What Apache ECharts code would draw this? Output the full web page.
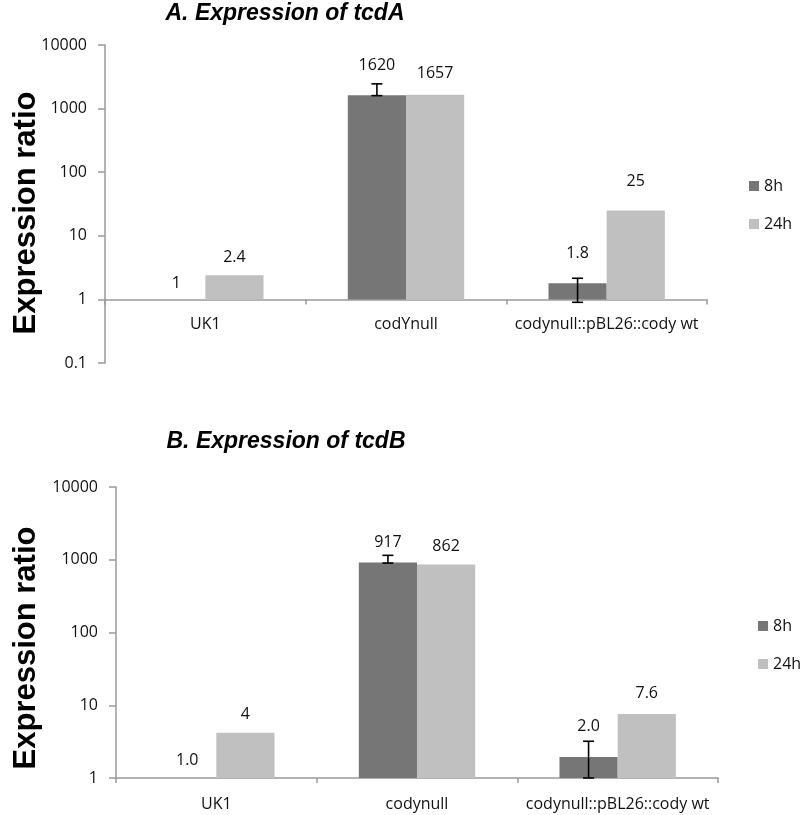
<!DOCTYPE html>
<html>
<head>
<meta charset="utf-8">
<script src="https://cdn.jsdelivr.net/npm/echarts@6/dist/echarts.min.js"></script>
<style>html,body{margin:0;padding:0;background:#fff}#c{width:800px;height:815px}</style>
</head>
<body>
<div id="c"></div>
<script>
// ---- data ----
var categoriesA = ['UK1', 'codYnull', 'codynull::pBL26::cody wt'];
var categoriesB = ['UK1', 'codynull', 'codynull::pBL26::cody wt'];
var seriesNames = ['8h', '24h'];

var a8h = [1, 1620, 1.8];
var a24h = [2.4, 1657, 25];
var a8hLabels = ['1', '1620', '1.8'];
var a24hLabels = ['2.4', '1657', '25'];
var a8hErrLow = [null, 1600, 0.9];
var a8hErrHigh = [null, 2450, 2.15];

var b8h = [1.0, 917, 1.95];
var b24h = [4.2, 862, 7.6];
var b8hLabels = ['1.0', '917', '2.0'];
var b24hLabels = ['4', '862', '7.6'];
var b8hErrLow = [null, 900, 1.0];
var b8hErrHigh = [null, 1150, 3.2];

var yTicksA = [0.1, 1, 10, 100, 1000, 10000];
var yTicksB = [1, 10, 100, 1000, 10000];

// ---- styling ----
var C8 = '#767676', C24 = '#c0c0c0';
var FONT = 'Open Sans';
var BARW = 0.29;

function barData(vals, labels, lifts) {
  return vals.map(function (v, i) {
    return { value: v, label: { formatter: labels[i], distance: lifts[i] } };
  });
}
function errData(lo, hi) {
  var out = [];
  for (var i = 0; i < lo.length; i++) if (lo[i] != null) out.push([i, lo[i], hi[i]]);
  return out;
}
function renderErr(params, api) {
  var cat = api.value(0), lo = api.value(1), hi = api.value(2);
  var pHi = api.coord([cat, hi]);
  var pLo = api.coord([cat, lo]);
  var band = api.coord([1, hi])[0] - api.coord([0, hi])[0];
  var x = pHi[0] - band * BARW / 2;
  var cw = 5.5;
  var st = { stroke: '#000', lineWidth: 1.6 };
  return {
    type: 'group', children: [
      { type: 'line', shape: { x1: x, y1: pHi[1], x2: x, y2: pLo[1] }, style: st },
      { type: 'line', shape: { x1: x - cw, y1: pHi[1], x2: x + cw, y2: pHi[1] }, style: st },
      { type: 'line', shape: { x1: x - cw, y1: pLo[1], x2: x + cw, y2: pLo[1] }, style: st }
    ]
  };
}
var labelBase = { show: true, position: 'top', color: '#111', fontFamily: FONT, fontSize: 16 };

function yAxis(gi, min, ticks) {
  return {
    type: 'log', logBase: 10, min: min, max: 10000, gridIndex: gi,
    axisLine: { show: true, lineStyle: { color: '#9a9a9a', width: 1.5 } },
    axisTick: { show: true, length: 7, lineStyle: { color: '#9a9a9a', width: 1.5 } },
    axisLabel: { color: '#111', fontFamily: FONT, fontSize: 16, margin: 18,
      formatter: function (v) {
        var n = +(+v).toPrecision(6);
        return ticks.indexOf(n) >= 0 ? String(n) : '';
      } },
    splitLine: { show: false }
  };
}
function xAxis(gi, cats, offset, margin) {
  return {
    type: 'category', data: cats, gridIndex: gi, offset: offset,
    axisLine: { show: true, lineStyle: { color: '#9a9a9a', width: 1.5 } },
    axisTick: { show: true, length: 5, lineStyle: { color: '#9a9a9a', width: 1.5 } },
    axisLabel: { color: '#111', fontFamily: FONT, fontSize: 16, margin: margin, interval: 0 }
  };
}
var nameStyle = { text: 'Expression ratio', fontFamily: 'Liberation Sans', fontWeight: 'bold', fontSize: 31,
  fill: '#000', textAlign: 'center', textVerticalAlign: 'middle' };
var titleStyle = { fontFamily: 'Liberation Sans', fontWeight: 'bold', fontStyle: 'italic', fontSize: 23, color: '#000' };
var chart = echarts.init(document.getElementById('c'), null, { renderer: 'canvas' });
chart.setOption({
  animation: false,
  backgroundColor: '#fff',
  title: [
    { text: 'A. Expression of tcdA', left: 280, top: -3, textAlign: 'center', textStyle: titleStyle },
    { text: 'B. Expression of tcdB', left: 281, top: 425, textAlign: 'center', textStyle: titleStyle }
  ],
  graphic: [
    { type: 'text', x: 26, y: 213, rotation: Math.PI / 2, style: nameStyle },
    { type: 'text', x: 26, y: 648, rotation: Math.PI / 2, style: nameStyle }
  ],
  legend: [
    { data: seriesNames, orient: 'vertical', left: 744, top: 173, itemWidth: 10, itemHeight: 10, itemGap: 22,
      icon: 'rect', textStyle: { fontFamily: FONT, fontSize: 16, color: '#111' }, selectedMode: false },
    { data: seriesNames, orient: 'vertical', left: 753, top: 613, itemWidth: 10, itemHeight: 10, itemGap: 22,
      icon: 'rect', textStyle: { fontFamily: FONT, fontSize: 16, color: '#111' }, selectedMode: false }
  ],
  grid: [
    { left: 105, top: 45, width: 602, height: 318, outerBoundsMode: 'none', containLabel: false },
    { left: 116, top: 487, width: 602, height: 291, outerBoundsMode: 'none', containLabel: false }
  ],
  xAxis: [xAxis(0, categoriesA, -318 / 5, 17), xAxis(1, categoriesB, 0, 18)],
  yAxis: [yAxis(0, 0.1, yTicksA), yAxis(1, 1, yTicksB)],
  series: [
    { name: '8h', type: 'bar', xAxisIndex: 0, yAxisIndex: 0, barWidth: (BARW * 100) + '%', barGap: '0%',
      itemStyle: { color: C8 }, label: labelBase, data: barData(a8h, a8hLabels, [8, 22, 22]) },
    { name: '24h', type: 'bar', xAxisIndex: 0, yAxisIndex: 0, barWidth: (BARW * 100) + '%', barGap: '0%',
      itemStyle: { color: C24 }, label: labelBase, data: barData(a24h, a24hLabels, [10, 13, 21]) },
    { type: 'custom', xAxisIndex: 0, yAxisIndex: 0, renderItem: renderErr, data: errData(a8hErrLow, a8hErrHigh), z: 5 },
    { name: '8h', type: 'bar', xAxisIndex: 1, yAxisIndex: 1, barWidth: (BARW * 100) + '%', barGap: '0%',
      itemStyle: { color: C8 }, label: labelBase, data: barData(b8h, b8hLabels, [10, 12, 22]) },
    { name: '24h', type: 'bar', xAxisIndex: 1, yAxisIndex: 1, barWidth: (BARW * 100) + '%', barGap: '0%',
      itemStyle: { color: C24 }, label: labelBase, data: barData(b24h, b24hLabels, [10, 10, 12]) },
    { type: 'custom', xAxisIndex: 1, yAxisIndex: 1, renderItem: renderErr, data: errData(b8hErrLow, b8hErrHigh), z: 5 }
  ]
});
</script>
</body>
</html>
